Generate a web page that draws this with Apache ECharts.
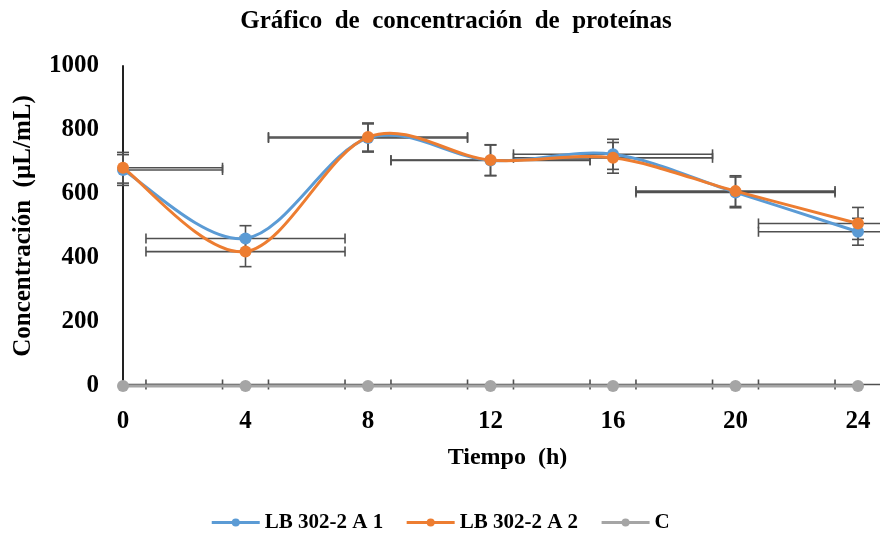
<!DOCTYPE html>
<html>
<head>
<meta charset="utf-8">
<script src="https://cdn.jsdelivr.net/npm/echarts@6/dist/echarts.min.js"></script>
<style>html,body{margin:0;padding:0;background:#fff}#c{width:880px;height:535px}</style>
</head>
<body>
<div id="c"></div>
<script>
// ---- data ----
var hours = [0, 4, 8, 12, 16, 20, 24];
var seriesNames = ['LB 302-2 A 1', 'LB 302-2 A 2', 'C'];
var a1 = [675, 461, 775, 705, 724, 605, 482];
var a2 = [682, 420, 778, 706, 713, 609, 508];
var cc = [0, 0, 0, 0, 0, 0, 0];
var a1YErr = [48, 40, 44, 48, 47, 48, 42];
var a2YErr = [48, 47, 44, 48, 48, 48, 50];
var cYErr = [0, 0, 0, 0, 0, 0, 0];
var xErr = [3.25, 3.25, 3.25, 3.25, 3.25, 3.25, 3.25];
var yTicks = [0, 200, 400, 600, 800, 1000];
var xTicks = [0, 4, 8, 12, 16, 20, 24];

var colors = ['#5B9BD5', '#ED7D31', '#A5A5A5'];
var FONT = '"Liberation Serif", "Times New Roman", serif';
var X_MIN = xTicks[0];

function pts(vals) { return hours.map(function (h, i) { return [h, vals[i]]; }); }
function errData(vals, ye) { return hours.map(function (h, i) { return [h, vals[i], xErr[i], ye[i]]; }); }

function renderErr(params, api) {
  var x = api.value(0), y = api.value(1), xe = api.value(2), ye = api.value(3);
  var st = { stroke: '#505050', lineWidth: 1.6 };
  var capV = 6, capH = 5;
  var ch = [];
  function ln(x1, y1, x2, y2) { ch.push({ type: 'line', shape: { x1: x1, y1: y1, x2: x2, y2: y2 }, style: st }); }
  if (ye > 0) {
    var t = api.coord([x, y + ye]), b = api.coord([x, y - ye]);
    ln(t[0], t[1], b[0], b[1]);
    ln(t[0] - capV, t[1], t[0] + capV, t[1]);
    ln(b[0] - capV, b[1], b[0] + capV, b[1]);
  }
  if (xe > 0) {
    var lo = Math.max(x - xe, X_MIN);
    var l = api.coord([lo, y]), r = api.coord([x + xe, y]);
    var dy = (y === 0) ? -1.5 : 0;
    ln(l[0], l[1] + dy, r[0], r[1] + dy);
    ln(r[0], r[1] - capH + dy, r[0], r[1] + capH + dy);
    if (x - xe >= X_MIN) ln(l[0], l[1] - capH + dy, l[0], l[1] + capH + dy);
  }
  return { type: 'group', children: ch };
}

// Excel-like smoothed segment (Catmull-Rom -> Bezier) between point i and i+1
function makeCurveRenderer(color) {
  return function (params, api) {
    var i = params.dataIndexInside, n = params.dataInsideLength;
    if (i >= n - 1) return null;
    function P(j) { j = Math.max(0, Math.min(n - 1, j)); return api.coord([api.value(0, j), api.value(1, j)]); }
    var p0 = P(i - 1), p1 = P(i), p2 = P(i + 1), p3 = P(i + 2);
    var s = 1 / 6;
    return {
      type: 'bezierCurve',
      shape: {
        x1: p1[0], y1: p1[1], x2: p2[0], y2: p2[1],
        cpx1: p1[0] + (p2[0] - p0[0]) * s, cpy1: p1[1] + (p2[1] - p0[1]) * s,
        cpx2: p2[0] - (p3[0] - p1[0]) * s, cpy2: p2[1] - (p3[1] - p1[1]) * s
      },
      style: { stroke: color, lineWidth: 3, fill: null, lineCap: 'round' }
    };
  };
}

var chart = echarts.init(document.getElementById('c'), null, { renderer: 'canvas' });
var lineVals = [a1, a2, cc];
var errVals = [a1YErr, a2YErr, cYErr];
var series = [];
for (var k = 0; k < 3; k++) {
  series.push({
    type: 'custom', name: seriesNames[k] + ' err', renderItem: renderErr,
    data: errData(lineVals[k], errVals[k]), clip: false, z: 1, silent: true,
    encode: { x: 0, y: 1 }
  });
}
for (var k2 = 0; k2 < 3; k2++) {
  series.push({
    type: 'custom', name: seriesNames[k2] + ' curve', renderItem: makeCurveRenderer(colors[k2]),
    data: pts(lineVals[k2]), clip: false, z: 2 + 2 * k2, silent: true,
    encode: { x: 0, y: 1 }
  });
  series.push({
    type: 'line', name: seriesNames[k2], data: pts(lineVals[k2]),
    symbol: 'circle', symbolSize: 12, showSymbol: true,
    lineStyle: { width: 3, color: colors[k2], opacity: 0 }, itemStyle: { color: colors[k2] },
    z: 3 + 2 * k2, animation: false
  });
}

chart.setOption({
  animation: false,
  color: colors,
  title: {
    text: 'Gráfico  de  concentración  de  proteínas',
    left: 451, top: 4, textAlign: 'center',
    textStyle: { fontFamily: FONT, fontWeight: 'bold', fontSize: 25, color: '#000' }
  },
  legend: {
    data: seriesNames.map(function (nm, i) {
      return { name: nm, lineStyle: { color: colors[i], width: 3, opacity: 1 } };
    }),
    left: 'center', top: 507,
    itemWidth: 48, itemHeight: 10, itemGap: 22,
    textStyle: { fontFamily: FONT, fontWeight: 'bold', fontSize: 21, color: '#000' }
  },
  grid: { left: 123, top: 66, width: 735, height: 320, containLabel: false },
  xAxis: {
    type: 'value', min: 0, max: 24, interval: 4,
    name: 'Tiempo  (h)', nameLocation: 'middle', nameGap: 60,
    nameTextStyle: { fontFamily: FONT, fontWeight: 'bold', fontSize: 24, color: '#000', padding: [0, 0, 0, 34] },
    axisLine: { show: true, lineStyle: { color: '#A5A5A5', width: 2 } },
    axisTick: { show: false }, splitLine: { show: false },
    axisLabel: { fontFamily: FONT, fontWeight: 'bold', fontSize: 25, color: '#000', margin: 23 }
  },
  yAxis: {
    type: 'value', min: 0, max: 1000, interval: 200,
    name: 'Concentración  (µL/mL)', nameLocation: 'middle', nameGap: 87,
    nameTextStyle: { fontFamily: FONT, fontWeight: 'bold', fontSize: 25, color: '#000' },
    axisLine: { show: true, lineStyle: { color: '#222', width: 2 } },
    axisTick: { show: false }, splitLine: { show: false },
    axisLabel: { fontFamily: FONT, fontWeight: 'bold', fontSize: 25, color: '#000', margin: 24,
      formatter: function (v) { return String(v); } }
  },
  series: series
});
</script>
</body>
</html>
